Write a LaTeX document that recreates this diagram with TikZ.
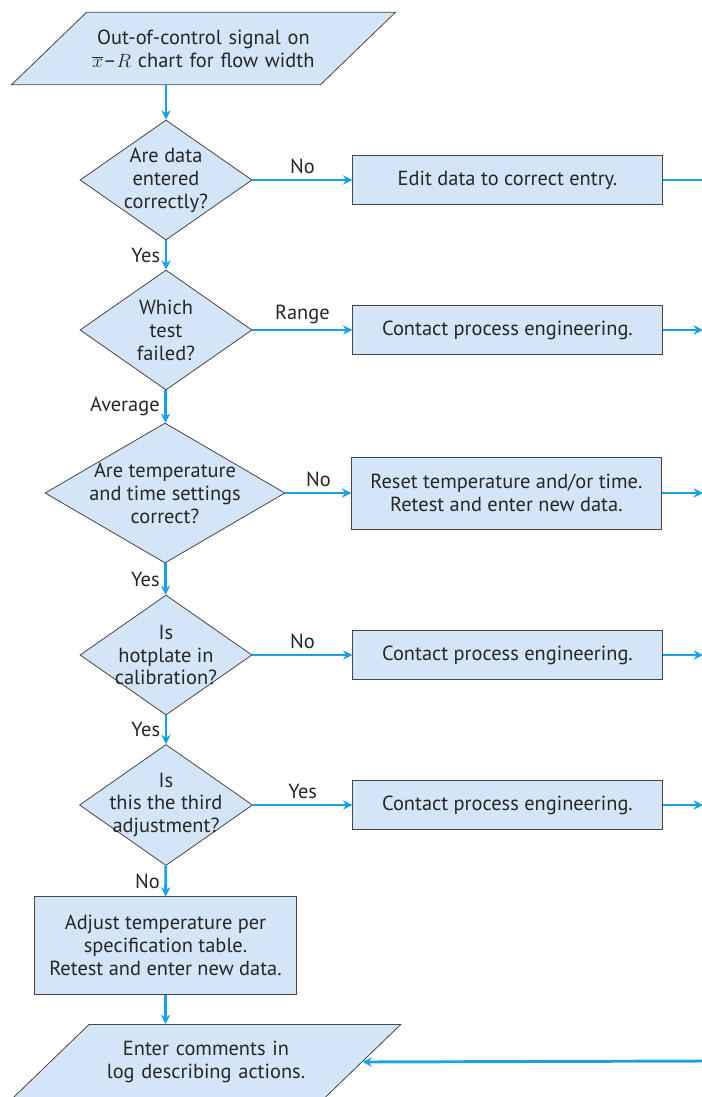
\documentclass[tikz,border=0pt]{standalone}
\usepackage{fontspec}
\setmainfont{PT Sans}
\usetikzlibrary{shapes.geometric, arrows.meta}
\definecolor{boxblue}{RGB}{212, 229, 248}
\definecolor{flowblue}{RGB}{27, 161, 226}
\definecolor{edgegray}{RGB}{70, 70, 70}
\tikzstyle{base} = [draw=edgegray, fill=boxblue, text=black!85,
                    line width=0.6pt, align=center,
                    font=\fontsize{15.3}{17.2}\selectfont]
\tikzstyle{io} = [base, trapezium, trapezium left angle=44,
                  trapezium right angle=136, text width=185pt,
                  inner xsep=-4.75pt, inner ysep=13pt]
\tikzstyle{decision} = [base, diamond, aspect=1.43, inner ysep=0pt,
                        inner xsep=-12pt, minimum width=129pt,
                        minimum height=90pt]
\tikzstyle{process} = [base, rectangle, minimum width=232pt,
                       minimum height=37pt]
\tikzstyle{answer} = [text=black!85, font=\fontsize{15.3}{17.2}\selectfont]
\tikzstyle{arrow} = [draw=flowblue, line width=2.2pt,
                     -{Stealth[length=7pt,width=7pt]}]

\begin{document}
\begin{tikzpicture}[x=0.75pt, y=-0.75pt, node distance=9cm]
        \useasboundingbox (0,0) rectangle (701,1097);
        \coordinate (edge) at (703,0);
        \coordinate (far) at (712,0);

        \node (signal) [io] at (203.5,48.5) {Out-of-control signal on\\ $\overline{x}$--$R$ chart for flow width};

        \node (entered) [decision] at (166,180) {Are data\\ entered\\ correctly?};
        \node (edit) [process, right of = entered] {Edit data to correct entry.};

        \node (failed) [decision] at (166,330) {Which\\ test\\ failed?};
        \node (range) [process, right of = failed] {Contact process engineering.};

        \node (settings) [decision, aspect=1.71, minimum width=180pt, minimum height=105pt] at (165,493) {Are temperature\\ and time settings\\ correct?};
        \node (reset) [process, right of = settings, minimum height=54pt] {Reset temperature and/or time.\\ Retest and enter new data.};

        \node (hotplate) [decision] at (166,655) {Is\\ hotplate in\\ calibration?};
        \node (calib) [process, right of = hotplate] {Contact process engineering.};

        \node (third) [decision] at (166,805) {Is\\ this the third\\ adjustment?};
        \node (thirdno) [process, right of = third] {Contact process engineering.};

        \node (adjust) [process, minimum width=197pt, minimum height=73pt] at (165.5,945.5) {Adjust temperature per\\ specification table.\\ Retest and enter new data.};

        \node (log) [io, inner ysep=12.5pt] at (206,1062) {Enter comments in\\ log describing actions.};

        \coordinate (back) at (703,1061);

        \draw [arrow] (entered |- signal.south) -- (entered);
        \draw [arrow] (entered) -- node[answer, above] {No} (edit);
        \draw [arrow] (entered) -- node[answer, left] {Yes} (failed);
        \draw [arrow] (failed) -- node[answer, above] {Range} (range);
        \draw [arrow] (failed) -- node[answer, left] {Average} (settings);
        \draw [arrow] (settings) -- node[answer, above] {No} (reset);
        \draw [arrow] (settings) -- node[answer, left] {Yes} (hotplate);
        \draw [arrow] (hotplate) -- node[answer, above] {No} (calib);
        \draw [arrow] (hotplate) -- node[answer, left] {Yes} (third);
        \draw [arrow] (third) -- node[answer, above] {Yes} (thirdno);
        \draw [arrow] (third) -- node[answer, left] {No} (adjust);
        \draw [arrow] (adjust) -- (adjust |- log.north);

        \draw [arrow] (edit) -- (edit -| far);
        \draw [arrow] (range) -- (range -| edge);
        \draw [arrow] (reset) -- (reset -| edge);
        \draw [arrow] (calib) -- (calib -| edge);
        \draw [arrow] (thirdno) -- (thirdno -| edge);
        \draw [arrow] (back) -- (log.east);

    \end{tikzpicture}
\end{document}
